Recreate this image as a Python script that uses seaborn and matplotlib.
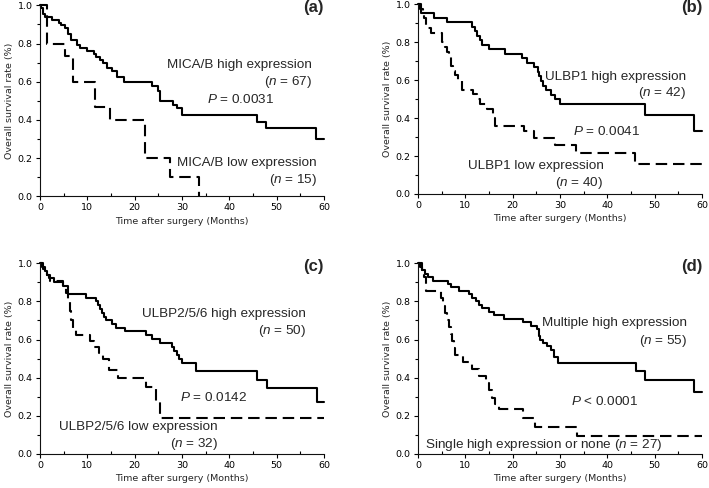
import numpy as np
import pandas as pd
import matplotlib
matplotlib.use('Agg')
import matplotlib.pyplot as plt
from matplotlib.ticker import MultipleLocator
import seaborn as sns

# Kaplan-Meier steps (months, survival fraction)
a_hi_t = [0, 0.3, 0.7, 1.0, 2.5, 4.0, 4.5, 5.2, 5.9, 6.6, 7.8, 8.5, 10.0, 11.5, 11.9, 12.6, 13.3, 14.2, 15.2, 16.3,
          17.7, 23.7, 24.9, 25.4, 28.0, 29.0, 30.0, 45.8, 47.8, 58.4, 60]
a_hi_s = [1.0, 0.985, 0.955, 0.94, 0.925, 0.91, 0.895, 0.88, 0.85, 0.82, 0.79, 0.775, 0.76, 0.745, 0.73, 0.715, 0.70,
          0.67, 0.656, 0.626, 0.596, 0.58, 0.55, 0.50, 0.48, 0.46, 0.425, 0.39, 0.355, 0.30, 0.30]
a_lo_t = [0, 1.4, 5.3, 7.0, 11.6, 14.8, 22.1, 27.5, 33.5]
a_lo_s = [1.0, 0.8, 0.733, 0.6, 0.467, 0.4, 0.2, 0.1, 0.0]

b_hi_t = [0, 0.6, 3.3, 6.1, 11.3, 12.0, 12.5, 13.0, 13.5, 15.0, 18.3, 22.0, 23.0, 24.5, 25.3, 25.6, 26.0, 26.5, 27.0,
          28.0, 29.0, 30.0, 48.0, 58.4, 60]
b_hi_s = [1.0, 0.952, 0.929, 0.905, 0.881, 0.857, 0.833, 0.81, 0.786, 0.762, 0.738, 0.714, 0.69, 0.667, 0.643, 0.619,
          0.595, 0.571, 0.548, 0.524, 0.50, 0.476, 0.417, 0.333, 0.333]
b_lo_t = [0, 0.5, 1, 1.3, 1.6, 2.8, 5.0, 5.6, 6.2, 6.5, 7.0, 7.3, 7.8, 8.5, 9.2, 11.6, 12.4, 13.1, 14.5, 15.8, 16.3,
          22.3, 24.5, 29.0, 33.3, 45.9, 60]
b_lo_s = [1.0, 0.975, 0.95, 0.925, 0.875, 0.85, 0.80, 0.775, 0.75, 0.725, 0.675, 0.65, 0.625, 0.60, 0.55, 0.525, 0.50,
          0.475, 0.45, 0.40, 0.36, 0.33, 0.296, 0.26, 0.215, 0.16, 0.16]

c_hi_t = [0, 0.5, 1, 1.5, 2, 3, 4.8, 6, 9.8, 11.9, 12.3, 12.7, 13.2, 13.6, 14, 15.2, 16, 18, 22.3, 23.7, 25.4, 27.9,
          28.4, 28.9, 29.4, 30, 33, 45.8, 47.9, 58.5, 60]
c_hi_s = [1.0, 0.98, 0.96, 0.94, 0.92, 0.90, 0.88, 0.84, 0.82, 0.80, 0.78, 0.76, 0.74, 0.72, 0.70, 0.68, 0.66, 0.645,
          0.625, 0.605, 0.58, 0.56, 0.54, 0.52, 0.50, 0.475, 0.435, 0.387, 0.347, 0.274, 0.274]
c_lo_t = [0, 0.7, 1.5, 2.2, 4.9, 5.5, 6.0, 6.3, 6.6, 7.0, 7.7, 10.5, 11.5, 12.5, 13.4, 14.5, 16.5, 22.3, 24.6, 25.3, 60]
c_lo_s = [1.0, 0.969, 0.938, 0.906, 0.875, 0.844, 0.812, 0.75, 0.70, 0.656, 0.625, 0.594, 0.562, 0.531, 0.50, 0.44,
          0.396, 0.353, 0.28, 0.19, 0.19]

d_hi_t = [0, 0.4, 0.9, 1.5, 2.2, 3.2, 6.3, 7.0, 8.7, 10.8, 11.5, 12.2, 12.8, 13.5, 15, 16, 18.2, 22.1, 23.8, 25.2, 25.5,
          25.8, 26.5, 27.3, 28.0, 28.8, 29.6, 46.1, 48, 58.4, 60]
d_hi_s = [1.0, 0.982, 0.964, 0.945, 0.927, 0.909, 0.891, 0.873, 0.855, 0.836, 0.818, 0.80, 0.782, 0.764, 0.745, 0.727,
          0.709, 0.691, 0.673, 0.655, 0.618, 0.60, 0.582, 0.564, 0.545, 0.509, 0.478, 0.434, 0.39, 0.325, 0.325]
d_lo_t = [0, 0.8, 1.2, 1.6, 4.9, 5.3, 5.7, 6.1, 6.5, 6.9, 7.2, 7.5, 7.8, 9.6, 11.5, 12.9, 14.4, 15.0, 15.6, 16.2, 17.1,
          22.2, 24.8, 33.5, 60]
d_lo_s = [1.0, 0.963, 0.926, 0.852, 0.815, 0.778, 0.741, 0.704, 0.667, 0.63, 0.593, 0.556, 0.519, 0.481, 0.444, 0.407,
          0.37, 0.333, 0.296, 0.262, 0.237, 0.19, 0.143, 0.092, 0.092]

panel_tags = ['(a)', '(b)', '(c)', '(d)']

sns.set_style('ticks')
plt.rcParams['font.family'] = ['DejaVu Sans']
plt.rcParams['mathtext.fontset'] = 'custom'
plt.rcParams['mathtext.rm'] = 'Liberation Sans'
plt.rcParams['mathtext.it'] = 'Liberation Sans:italic'

fig = plt.figure(figsize=(7.09, 4.88), dpi=100)
boxes = [[0.0564, 0.598, 0.4006, 0.391], [0.5896, 0.6025, 0.4006, 0.389],
         [0.0564, 0.0697, 0.4006, 0.391], [0.5896, 0.0697, 0.4006, 0.391]]
axes = [fig.add_axes(b) for b in boxes]

curves = [(a_hi_t, a_hi_s, a_lo_t, a_lo_s), (b_hi_t, b_hi_s, b_lo_t, b_lo_s),
          (c_hi_t, c_hi_s, c_lo_t, c_lo_s), (d_hi_t, d_hi_s, d_lo_t, d_lo_s)]
tag_y = [0.99, 0.98, 0.98, 0.985]

for ax, (ht, hs, lt, ls), tag, ty in zip(axes, curves, panel_tags, tag_y):
    sns.lineplot(x=lt, y=ls, ax=ax, color='black', lw=1.5, drawstyle='steps-post',
                 estimator=None, sort=False, linestyle=(0, (5.5, 2.8)), clip_on=False)
    sns.lineplot(x=ht, y=hs, ax=ax, color='black', lw=1.5, drawstyle='steps-post',
                 estimator=None, sort=False, clip_on=False)
    ax.set_xlim(0, 60)
    ax.set_ylim(0, 1.0)
    ax.xaxis.set_major_locator(MultipleLocator(10))
    ax.xaxis.set_minor_locator(MultipleLocator(5))
    ax.yaxis.set_major_locator(MultipleLocator(0.2))
    ax.yaxis.set_minor_locator(MultipleLocator(0.1))
    ax.yaxis.set_major_formatter(matplotlib.ticker.FormatStrFormatter('%.1f'))
    ax.tick_params(which='major', length=3.2, width=0.8, labelsize=6.8, pad=2, colors='black')
    ax.tick_params(which='minor', length=2, width=0.8, colors='black')
    ax.tick_params(axis='x', which='minor', direction='in')
    for s in ['top', 'right']:
        ax.spines[s].set_visible(False)
    for s in ['left', 'bottom']:
        ax.spines[s].set_linewidth(0.8)
        ax.spines[s].set_color('#111111')
    ax.set_xlabel('Time after surgery (Months)', fontsize=6.8, labelpad=3)
    ax.set_ylabel('Overall survival rate (%)', fontsize=6.8, labelpad=3)
    ax.text(1.0, ty, tag, transform=ax.transAxes, ha='right', va='center',
            fontsize=12, fontweight='bold', family='Liberation Sans')

tf = dict(fontsize=9.7, family='Liberation Sans', va='center')
ax = axes[0]
ax.text(57.4, 0.69, 'MICA/B high expression', ha='right', **tf)
ax.text(57.4, 0.60, '($\\it{n}$ = 67)', ha='right', **tf)
ax.text(42.3, 0.506, '$\\it{P}$ = 0.0031', ha='center', **tf)
ax.text(58.5, 0.175, 'MICA/B low expression', ha='right', **tf)
ax.text(58.5, 0.084, '($\\it{n}$ = 15)', ha='right', **tf)

ax = axes[1]
ax.text(56.7, 0.618, 'ULBP1 high expression', ha='right', **tf)
ax.text(56.7, 0.53, '($\\it{n}$ = 42)', ha='right', **tf)
ax.text(39.9, 0.33, '$\\it{P}$ = 0.0041', ha='center', **tf)
ax.text(25.0, 0.149, 'ULBP1 low expression', ha='center', **tf)
ax.text(34.1, 0.06, '($\\it{n}$ = 40)', ha='center', **tf)

ax = axes[2]
ax.text(56.2, 0.736, 'ULBP2/5/6 high expression', ha='right', **tf)
ax.text(56.2, 0.642, '($\\it{n}$ = 50)', ha='right', **tf)
ax.text(36.7, 0.297, '$\\it{P}$ = 0.0142', ha='center', **tf)
ax.text(20.7, 0.143, 'ULBP2/5/6 low expression', ha='center', **tf)
ax.text(32.5, 0.052, '($\\it{n}$ = 32)', ha='center', **tf)

ax = axes[3]
ax.text(56.8, 0.684, 'Multiple high expression', ha='right', **tf)
ax.text(56.8, 0.593, '($\\it{n}$ = 55)', ha='right', **tf)
ax.text(39.4, 0.276, '$\\it{P}$ < 0.0001', ha='center', **tf)
ax.text(26.6, 0.047, 'Single high expression or none ($\\it{n}$ = 27)', ha='center', **tf)

fig.savefig('out.png', dpi=100)
